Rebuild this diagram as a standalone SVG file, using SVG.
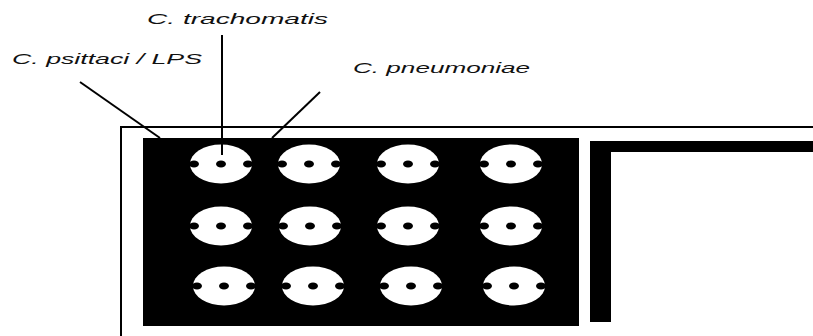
<svg xmlns="http://www.w3.org/2000/svg" width="813" height="336" viewBox="0 0 813 336">
<defs>
<style>
.lbl{font-family:"Liberation Sans",Arial,sans-serif;font-style:italic;font-size:15px;fill:#111}
.ldr{stroke:#000;stroke-width:2;fill:none}
.well{fill:#fff}
.dot{fill:#000}
</style>
<g id="wellShape">
<ellipse class="well" cx="0" cy="0" rx="31" ry="19.5"/>
<ellipse class="dot" cx="0" cy="0" rx="5" ry="3.5"/>
<ellipse class="dot" cx="-27" cy="0" rx="5" ry="3.5"/>
<ellipse class="dot" cx="27" cy="0" rx="5" ry="3.5"/>
</g>
</defs>
<rect width="813" height="336" fill="#fff"/>
<g id="frame">
<path d="M121,336 V127 H813" stroke="#000" stroke-width="2" fill="none"/>
</g>
<g id="plate">
<rect x="143" y="138" width="436" height="188" fill="#000"/>
<use href="#wellShape" x="221" y="164"/>
<use href="#wellShape" x="309" y="164"/>
<use href="#wellShape" x="408" y="164"/>
<use href="#wellShape" x="511" y="164"/>
<use href="#wellShape" x="221" y="226"/>
<use href="#wellShape" x="310" y="226"/>
<use href="#wellShape" x="408" y="226"/>
<use href="#wellShape" x="511" y="226"/>
<use href="#wellShape" x="224" y="286"/>
<use href="#wellShape" x="313" y="286"/>
<use href="#wellShape" x="411" y="286"/>
<use href="#wellShape" x="514" y="286"/>
</g>
<g id="bracket">
<path d="M590,141 H813 V152 H611 V322 H590 Z" fill="#000"/>
</g>
<g id="connectors">
<line class="ldr" x1="80" y1="82" x2="160" y2="138"/>
<line class="ldr" x1="222" y1="35" x2="222" y2="155"/>
<line class="ldr" x1="320" y1="92" x2="272" y2="138"/>
</g>
<g id="label-psittaci"><text class="lbl" x="12" y="64" textLength="190" lengthAdjust="spacingAndGlyphs">C. psittaci / LPS</text></g>
<g id="label-trachomatis"><text class="lbl" x="147" y="24" textLength="181" lengthAdjust="spacingAndGlyphs">C. trachomatis</text></g>
<g id="label-pneumoniae"><text class="lbl" x="353" y="73" textLength="177" lengthAdjust="spacingAndGlyphs">C. pneumoniae</text></g>
</svg>
